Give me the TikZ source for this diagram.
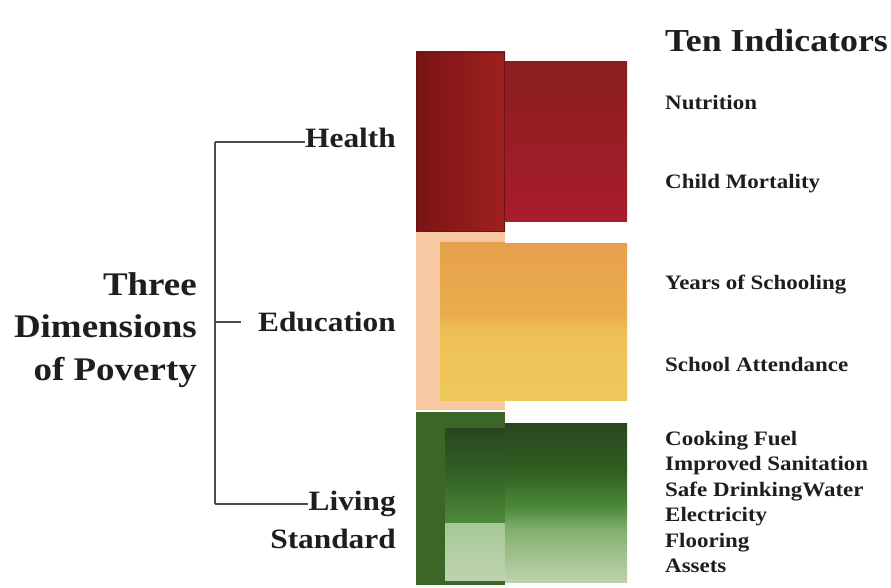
\documentclass[tikz,border=0pt]{standalone}
\usepackage{fontspec}
\setmainfont{Liberation Serif}[FakeStretch=1.12]
\definecolor{hA}{HTML}{7A1414}
\definecolor{hB}{HTML}{A02020}
\definecolor{hC}{HTML}{8A1E1E}
\definecolor{hD}{HTML}{A91C2B}
\definecolor{peach}{HTML}{F6C9A2}
\definecolor{orA}{HTML}{E6A04C}
\definecolor{orB}{HTML}{EAAD4E}
\definecolor{yeA}{HTML}{EDC056}
\definecolor{yeB}{HTML}{F0C85A}
\definecolor{gS}{HTML}{3B6628}
\definecolor{gA}{HTML}{2A4620}
\definecolor{gB}{HTML}{2F5E22}
\definecolor{gC}{HTML}{4E8A3A}
\definecolor{gD}{HTML}{7FAE6C}
\definecolor{gE}{HTML}{A6C896}
\definecolor{gF}{HTML}{BDD3AE}
\definecolor{txt}{HTML}{1E1E1E}
\tikzset{
  dimlabel/.style={font=\bfseries\fontsize{28}{38}\selectfont, text=txt, inner sep=0pt},
  indlabel/.style={font=\bfseries\fontsize{20.5}{22}\selectfont, text=txt, inner sep=0pt, anchor=base west},
  bracket/.style={draw=txt!80, line width=1.4pt}
}
\begin{document}
\begin{tikzpicture}[x=1pt,y=-1pt]
\useasboundingbox (0,0) rectangle (891,588);
\fill[white] (0,0) rectangle (891,588);

% ---- Health block
\shade[left color=hA, right color=hB] (416,52) rectangle (505,232);
\shade[top color=hC, bottom color=hD] (505,62) rectangle (627,221);
\draw[hA!90!black, line width=1pt] (416.5,52.5) rectangle (504.5,231.5);

% ---- Education block
\fill[peach] (416,232) rectangle (505,410);
\shade[top color=orA, bottom color=orB] (440,242) rectangle (505,315);
\shade[top color=orB, bottom color=yeA] (440,315) rectangle (505,330);
\shade[top color=yeA, bottom color=yeB] (440,330) rectangle (505,400);
\shade[top color=orA, bottom color=orB] (505,243) rectangle (627,315);
\shade[top color=orB, bottom color=yeA] (505,315) rectangle (627,330);
\shade[top color=yeA, bottom color=yeB] (505,330) rectangle (627,400);

% ---- Living standard block
\fill[gS] (416,412) rectangle (505,585);
\shade[top color=gA, bottom color=gB] (445,428) rectangle (505,470);
\shade[top color=gB, bottom color=gC] (445,470) rectangle (505,523);
\shade[top color=gE, bottom color=gF] (445,523) rectangle (505,580);
\shade[top color=gA, bottom color=gB] (505,423) rectangle (627,470);
\shade[top color=gB, bottom color=gC] (505,470) rectangle (627,508);
\shade[top color=gC, bottom color=gD] (505,508) rectangle (627,528);
\shade[top color=gD, bottom color=gF] (505,528) rectangle (627,582);

% ---- Left labels
\node[dimlabel, font=\bfseries\fontsize{33}{42.5}\selectfont, align=right, anchor=east] (three) at (197,330)
  {Three\\Dimensions\\of Poverty};
\node[dimlabel, anchor=base east] (health) at (396,148) {Health};
\node[dimlabel, anchor=base east] (edu) at (396,331) {Education};
\node[dimlabel, anchor=base east] (living) at (396,510) {Living};
\node[dimlabel, anchor=base east] (standard) at (396,548) {Standard};

% ---- Bracket
\coordinate (btop) at (215,142);
\coordinate (bmid) at (215,322);
\coordinate (bbot) at (215,504);
\draw[bracket] (btop) -- (bbot);
\draw[bracket] (btop) -- (btop -| health.west);
\draw[bracket] (bmid) -- (241,322);
\draw[bracket] (bbot) -- (bbot -| living.west);

% ---- Indicators
\node[indlabel, font=\bfseries\fontsize{32}{34}\selectfont] (ten) at (665,52) {Ten Indicators};
\node[indlabel] (nut) at (665,110) {Nutrition};
\node[indlabel] (child) at (665,189) {Child Mortality};
\node[indlabel] (years) at (665,289) {Years of Schooling};
\node[indlabel] (attend) at (665,371) {School Attendance};
\node[indlabel] (cook) at (665,445) {Cooking Fuel};
\node[indlabel] (sanit) at (665,470.5) {Improved Sanitation};
\node[indlabel] (water) at (665,496) {Safe DrinkingWater};
\node[indlabel] (elec) at (665,521.5) {Electricity};
\node[indlabel] (floor) at (665,547) {Flooring};
\node[indlabel] (assets) at (665,572.5) {Assets};
\end{tikzpicture}
\end{document}
